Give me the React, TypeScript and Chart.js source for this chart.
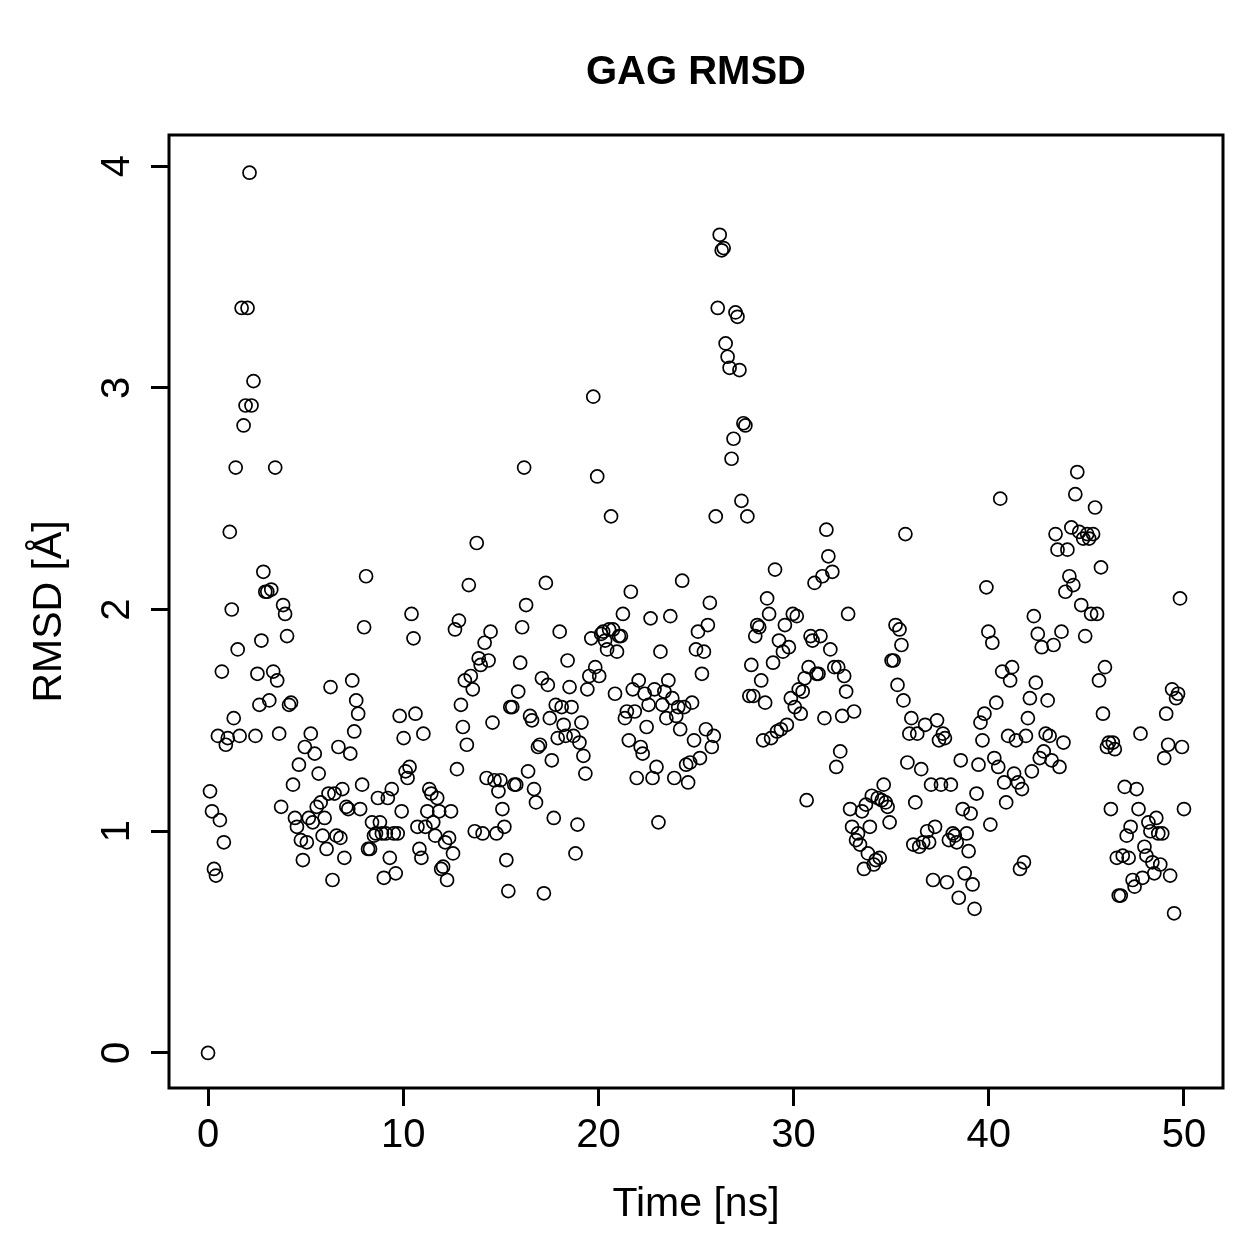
import React, { useEffect, useRef } from "react";
import { Chart, registerables } from "chart.js";

Chart.register(...registerables);

const chartTitle = "GAG RMSD";
const xAxisTitle = "Time [ns]";
const yAxisTitle = "RMSD [Å]";
const xTicks = [0, 10, 20, 30, 40, 50];
const yTicks = [0, 1, 2, 3, 4];
const timeStart = 0;
const timeEnd = 50;

// RMSD values (Å) in time order, grouped by 5 ns
const rmsd00to05 = [0, 1.18, 1.09, 0.83, 0.8, 1.43, 1.05, 1.72, 0.95, 1.39, 1.42, 2.35, 2.0, 1.51, 2.64, 1.82, 1.43, 3.36, 2.83, 2.92, 3.36, 3.97, 2.92, 3.03, 1.43, 1.71, 1.57, 1.86, 2.17, 2.08, 2.08, 1.59, 2.09, 1.72, 2.64, 1.68, 1.44, 1.11, 2.02, 1.98, 1.88, 1.57, 1.58, 1.21, 1.06, 1.02, 1.3, 0.96, 0.87, 1.38, 0.95];
const rmsd05to10 = [1.06, 1.44, 1.04, 1.35, 1.11, 1.26, 1.13, 0.98, 1.06, 0.92, 1.17, 1.65, 0.78, 1.17, 0.98, 1.38, 0.97, 1.19, 0.88, 1.11, 1.1, 1.35, 1.68, 1.45, 1.59, 1.53, 1.1, 1.21, 1.92, 2.15, 0.92, 0.92, 1.04, 0.98, 0.99, 1.15, 1.04, 0.99, 0.79, 0.99, 1.15, 0.88, 1.19, 0.99, 0.81, 0.99, 1.52, 1.09, 1.42];
const rmsd10to15 = [1.27, 1.24, 1.29, 1.98, 1.87, 1.53, 1.02, 0.92, 0.88, 1.44, 1.02, 1.09, 1.19, 1.17, 1.04, 0.98, 1.15, 1.09, 0.83, 0.84, 0.95, 0.78, 0.97, 1.09, 0.9, 1.91, 1.28, 1.95, 1.57, 1.47, 1.68, 1.39, 2.11, 1.7, 1.64, 1.0, 2.3, 1.78, 1.75, 0.99, 1.85, 1.24, 1.77, 1.9, 1.49, 1.23, 0.99, 1.18, 1.23];
const rmsd15to20 = [1.1, 1.02, 0.87, 0.73, 1.56, 1.56, 1.21, 1.21, 1.63, 1.76, 1.92, 2.64, 2.02, 1.27, 1.52, 1.5, 1.19, 1.13, 1.38, 1.39, 1.69, 0.72, 2.12, 1.66, 1.51, 1.32, 1.06, 1.57, 1.42, 1.9, 1.56, 1.48, 1.43, 1.77, 1.65, 1.56, 1.43, 0.9, 1.03, 1.4, 1.49, 1.34, 1.26, 1.64, 1.7, 1.87, 2.96, 1.74, 2.6, 1.7, 1.89];
const rmsd20to25 = [1.9, 1.86, 1.82, 1.91, 2.42, 1.91, 1.62, 1.81, 1.88, 1.88, 1.98, 1.51, 1.54, 1.41, 2.08, 1.64, 1.54, 1.24, 1.68, 1.38, 1.35, 1.62, 1.47, 1.57, 1.96, 1.24, 1.64, 1.29, 1.04, 1.81, 1.57, 1.63, 1.51, 1.68, 1.97, 1.6, 1.24, 1.52, 1.56, 1.46, 2.13, 1.56, 1.3, 1.22, 1.31, 1.58, 1.41, 1.82, 1.9];
const rmsd25to30 = [1.33, 1.71, 1.81, 1.46, 1.93, 2.03, 1.38, 1.43, 2.42, 3.36, 3.69, 3.62, 3.63, 3.2, 3.14, 3.09, 2.68, 2.77, 3.34, 3.32, 3.08, 2.49, 2.84, 2.83, 2.42, 1.61, 1.75, 1.61, 1.88, 1.93, 1.92, 1.68, 1.41, 1.58, 2.05, 1.98, 1.42, 1.76, 2.18, 1.45, 1.86, 1.46, 1.81, 1.93, 1.48, 1.83, 1.6, 1.98, 1.56];
const rmsd30to35 = [1.97, 1.64, 1.53, 1.63, 1.69, 1.14, 1.74, 1.88, 1.86, 2.12, 1.71, 1.71, 1.88, 2.15, 1.51, 2.36, 2.24, 1.82, 2.17, 1.74, 1.29, 1.74, 1.36, 1.52, 1.7, 1.63, 1.98, 1.1, 1.02, 1.54, 0.96, 0.99, 0.94, 1.09, 0.83, 1.12, 0.9, 1.02, 1.16, 0.85, 0.87, 1.15, 0.88, 1.14, 1.21, 1.13, 1.11, 1.04, 1.77];
const rmsd35to40 = [1.77, 1.93, 1.66, 1.91, 1.84, 1.59, 2.34, 1.31, 1.44, 1.51, 0.94, 1.13, 1.44, 0.93, 1.28, 0.95, 1.48, 1.0, 0.95, 1.21, 0.78, 1.02, 1.5, 1.41, 1.21, 1.44, 1.42, 0.77, 0.96, 1.21, 0.99, 0.98, 0.95, 0.7, 1.32, 1.1, 0.81, 0.99, 0.91, 1.08, 0.76, 0.65, 1.17, 1.3, 1.49, 1.41, 1.53, 2.1, 1.9, 1.03];
const rmsd40to45 = [1.85, 1.33, 1.58, 1.29, 2.5, 1.72, 1.22, 1.13, 1.43, 1.68, 1.74, 1.26, 1.41, 1.22, 0.83, 1.19, 0.86, 1.43, 1.51, 1.6, 1.27, 1.97, 1.67, 1.89, 1.33, 1.83, 1.36, 1.44, 1.59, 1.43, 1.32, 1.84, 2.34, 2.27, 1.29, 1.9, 1.4, 2.08, 2.27, 2.15, 2.37, 2.11, 2.52, 2.62, 2.35, 2.02, 2.32, 1.88];
const rmsd45to50 = [2.34, 2.32, 1.98, 2.34, 2.46, 1.98, 1.68, 2.19, 1.53, 1.74, 1.38, 1.4, 1.1, 1.4, 1.37, 0.88, 0.71, 0.71, 0.89, 1.2, 0.98, 0.88, 1.02, 0.78, 0.75, 1.19, 1.1, 1.44, 0.79, 0.93, 0.89, 1.04, 1.0, 0.86, 0.81, 1.06, 0.99, 0.85, 0.99, 1.33, 1.53, 1.39, 0.8, 1.64, 0.63, 1.6, 1.62, 2.05, 1.38, 1.1];

const rmsdValues = [
  ...rmsd00to05, ...rmsd05to10, ...rmsd10to15, ...rmsd15to20, ...rmsd20to25,
  ...rmsd25to30, ...rmsd30to35, ...rmsd35to40, ...rmsd40to45, ...rmsd45to50,
];

const FONT = '"Liberation Sans", Arial, Helvetica, sans-serif';
const W = 1259;
const H = 1259;

const boxPlugin = {
  id: "rBox",
  afterDraw(chart: any) {
    const { ctx, chartArea } = chart;
    ctx.save();
    ctx.strokeStyle = "#000";
    ctx.lineWidth = 3;
    ctx.strokeRect(chartArea.left, chartArea.top, chartArea.right - chartArea.left, chartArea.bottom - chartArea.top);
    ctx.fillStyle = "#000";
    ctx.font = `bold 40px ${FONT}`;
    ctx.textAlign = "center";
    ctx.textBaseline = "alphabetic";
    ctx.fillText(chartTitle, (chartArea.left + chartArea.right) / 2, 84);
    ctx.restore();
  },
};

export default function App() {
  const ref = useRef<HTMLCanvasElement | null>(null);
  useEffect(() => {
    if (!ref.current) return;
    const step = (timeEnd - timeStart) / (rmsdValues.length - 1);
    const points = rmsdValues.map((v, i) => ({ x: timeStart + i * step, y: v }));
    const chart = new Chart(ref.current, {
      type: "scatter",
      data: {
        datasets: [
          {
            data: points,
            pointRadius: 6.5,
            pointBorderWidth: 1.7,
            pointBorderColor: "#000",
            pointBackgroundColor: "rgba(0,0,0,0)",
            showLine: false,
          },
        ],
      },
      options: {
        responsive: false,
        animation: false,
        devicePixelRatio: 1,
        layout: { padding: { top: 135, right: 36, bottom: 0, left: 0 } },
        plugins: { legend: { display: false }, tooltip: { enabled: false }, title: { display: false } },
        scales: {
          x: {
            type: "linear",
            min: -2,
            max: 52,
            afterBuildTicks: (s: any) => {
              s.ticks = xTicks.map((v) => ({ value: v }));
            },
            afterFit: (s: any) => {
              s.height = 171;
            },
            ticks: { color: "#000", font: { family: FONT, size: 40 }, padding: 6, maxRotation: 0, minRotation: 0, autoSkip: false },
            grid: { display: true, drawOnChartArea: false, drawTicks: true, tickLength: 18, lineWidth: 3, color: "#000" },
            border: { display: false },
            title: { display: true, text: xAxisTitle, color: "#000", font: { family: FONT, size: 41 }, padding: { top: 0, bottom: 30 } },
          },
          y: {
            type: "linear",
            min: -0.158,
            max: 4.14,
            afterBuildTicks: (s: any) => {
              s.ticks = yTicks.map((v) => ({ value: v }));
            },
            afterFit: (s: any) => {
              s.width = 169;
            },
            ticks: { color: "#000", font: { family: FONT, size: 40 }, padding: 22, minRotation: 90, maxRotation: 90, crossAlign: "center", autoSkip: false },
            grid: { display: true, drawOnChartArea: false, drawTicks: true, tickLength: 18, lineWidth: 3, color: "#000" },
            border: { display: false },
            title: { display: true, text: yAxisTitle, color: "#000", font: { family: FONT, size: 41 }, padding: { top: 25, bottom: 0 } },
          },
        },
      },
      plugins: [boxPlugin],
    } as any);
    return () => chart.destroy();
  }, []);
  return (
    <div style={{ position: "fixed", left: 0, top: 0, width: W, height: H, background: "#fff" }}>
      <canvas ref={ref} width={W} height={H} style={{ width: W, height: H, display: "block" }} />
    </div>
  );
}
